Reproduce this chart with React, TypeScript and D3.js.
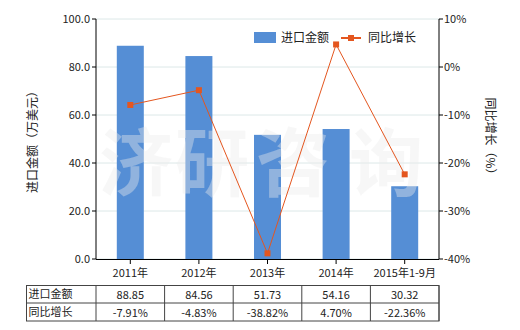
import React from "react";
import * as d3 from "d3";

const categories = ["2011年", "2012年", "2013年", "2014年", "2015年1-9月"];
const importValues = [88.85, 84.56, 51.73, 54.16, 30.32];
const growthValues = [-7.91, -4.83, -38.82, 4.7, -22.36];
const importLabels = ["88.85", "84.56", "51.73", "54.16", "30.32"];
const growthLabels = ["-7.91%", "-4.83%", "-38.82%", "4.70%", "-22.36%"];
const leftTicks = [0, 20, 40, 60, 80, 100];
const rightTicks = [-40, -30, -20, -10, 0, 10];
const watermark = ["济", "研", "咨", "询"];

const W = 520, H = 330;
const left = 96, right = 439, top = 19, bottom = 259;
const font = "'Noto Sans CJK SC', 'Noto Sans', sans-serif";
const barColor = "#558ed5";
const lineColor = "#e4561f";

export default function App() {
  const x = d3.scaleBand<string>().domain(categories).range([left, right]);
  const yL = d3.scaleLinear().domain([0, 100]).range([bottom, top]);
  const yR = d3.scaleLinear().domain([-40, 10]).range([bottom, top]);
  const barW = 27;
  const cx = (c: string) => (x(c) as number) + x.bandwidth() / 2;
  const line = d3.line<number>().x((_, i) => cx(categories[i])).y((d) => yR(d));
  const tTop = 285.5, tMid = 303, tBot = 321;
  const tableLeft = 26.5;
  const wmX = [136, 212, 293, 386];
  return (
    <svg width={W} height={H} style={{ position: "absolute", left: 0, top: 0, background: "#fff" }}>
      {leftTicks.map((t) => (
        <line key={"g" + t} x1={left} x2={right} y1={yL(t)} y2={yL(t)} stroke="#dce8e8" strokeWidth={1} />
      ))}
      {categories.map((c, i) => (
        <rect key={c} x={cx(c) - barW / 2} y={yL(importValues[i])} width={barW} height={yL(0) - yL(importValues[i])} fill={barColor} />
      ))}
      <g fontFamily={font} fontSize={74} fontWeight={700} fill="#ececec" fillOpacity={0.4}>
        {watermark.map((ch, i) => (
          <text key={ch} x={wmX[i]} y={190} textAnchor="middle">{ch}</text>
        ))}
      </g>
      <path d={line(growthValues) || ""} fill="none" stroke={lineColor} strokeWidth={1} />
      {growthValues.map((v, i) => (
        <rect key={i} x={cx(categories[i]) - 3} y={yR(v) - 3} width={6} height={6} fill={lineColor} />
      ))}
      <line x1={left} x2={left} y1={top} y2={bottom} stroke="#000" />
      <line x1={right} x2={right} y1={top} y2={bottom} stroke="#000" />
      <line x1={left} x2={right} y1={bottom + 0.5} y2={bottom + 0.5} stroke="#000" />
      {leftTicks.map((t) => (
        <g key={"l" + t}>
          <line x1={left - 4} x2={left} y1={yL(t)} y2={yL(t)} stroke="#000" />
          <text x={left - 6} y={yL(t)} dy="0.35em" textAnchor="end" fontFamily={font} fontSize={11} fill="#222">{t.toFixed(1)}</text>
        </g>
      ))}
      {rightTicks.map((t) => (
        <g key={"r" + t}>
          <line x1={right} x2={right + 4} y1={yR(t)} y2={yR(t)} stroke="#000" />
          <text x={right + 5} y={yR(t)} dy="0.35em" textAnchor="start" fontFamily={font} fontSize={11} fill="#222">{t + "%"}</text>
        </g>
      ))}
      {categories.map((c) => (
        <g key={"x" + c}>
          <line x1={cx(c)} x2={cx(c)} y1={bottom} y2={bottom + 5} stroke="#000" />
          <text x={cx(c)} y={273} dy="0.35em" textAnchor="middle" fontFamily={font} fontSize={11} fill="#222">{c}</text>
        </g>
      ))}
      <text transform={`translate(33,${(top + bottom) / 2}) rotate(-90)`} textAnchor="middle" dy="0.35em" fontFamily={font} fontSize={12} fill="#222">进口金额（万美元）</text>
      <text transform={`translate(490,${(top + bottom) / 2}) rotate(90)`} textAnchor="middle" dy="0.35em" fontFamily={font} fontSize={12} fill="#222">同比增长（%）</text>
      <rect x={254} y={32} width={22} height={11} fill={barColor} />
      <text x={281} y={38} dy="0.35em" fontFamily={font} fontSize={12} fill="#222">进口金额</text>
      <line x1={341} x2={361} y1={38} y2={38} stroke={lineColor} strokeWidth={2} />
      <rect x={348} y={35} width={6} height={6} fill={lineColor} />
      <text x={368} y={38} dy="0.35em" fontFamily={font} fontSize={12} fill="#222">同比增长</text>
      <g stroke="#444" strokeWidth={1} fill="none">
        <rect x={tableLeft} y={tTop} width={right - tableLeft} height={tBot - tTop} />
        <line x1={tableLeft} x2={right} y1={tMid} y2={tMid} />
        <line x1={left} x2={left} y1={tTop} y2={tBot} />
        {categories.map((c) => (
          <line key={"tl" + c} x1={(x(c) as number) + x.bandwidth()} x2={(x(c) as number) + x.bandwidth()} y1={tTop} y2={tBot} />
        ))}
      </g>
      <text x={tableLeft + 2} y={(tTop + tMid) / 2} dy="0.35em" fontFamily={font} fontSize={11} fill="#222">进口金额</text>
      <text x={tableLeft + 2} y={(tMid + tBot) / 2} dy="0.35em" fontFamily={font} fontSize={11} fill="#222">同比增长</text>
      {categories.map((c, i) => (
        <g key={"tv" + c}>
          <text x={cx(c)} y={(tTop + tMid) / 2 + 1} dy="0.35em" textAnchor="middle" fontFamily={font} fontSize={11} fill="#222">{importLabels[i]}</text>
          <text x={cx(c)} y={(tMid + tBot) / 2 + 1} dy="0.35em" textAnchor="middle" fontFamily={font} fontSize={11} fill="#222">{growthLabels[i]}</text>
        </g>
      ))}
    </svg>
  );
}
